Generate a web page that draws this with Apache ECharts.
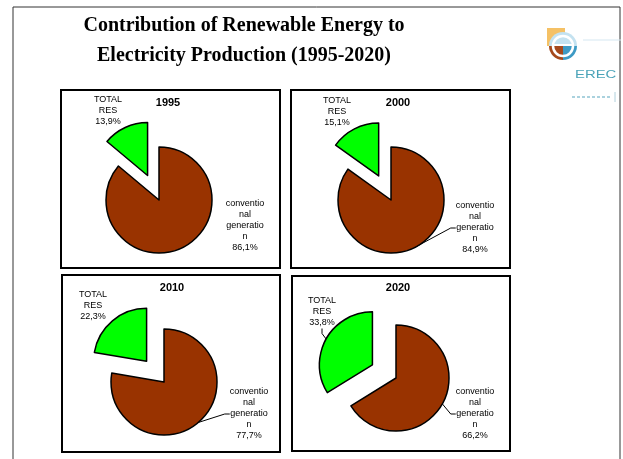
<!DOCTYPE html>
<html>
<head>
<meta charset="utf-8">
<script src="https://cdn.jsdelivr.net/npm/echarts@6/dist/echarts.min.js"></script>
<style>
html,body{margin:0;padding:0;background:#fff;}
#chart{width:623px;height:459px;}
</style>
</head>
<body>
<div id="chart"></div>
<script>
// ---- data ----
const years = ['1995', '2000', '2010', '2020'];
const categories = ['conventional generation', 'TOTAL RES'];
const categoryLabels = ['conventio\nnal\ngeneratio\nn', 'TOTAL\nRES'];
const conventionalShare = [86.1, 84.9, 77.7, 66.2];
const resShare = [13.9, 15.1, 22.3, 33.8];
const titleLines = ['Contribution of Renewable Energy to', 'Electricity Production (1995-2020)'];

// ---- layout (pixels) ----
const panels = [[61, 90, 219, 178], [291, 90, 219, 178], [62, 275, 218, 177], [292, 276, 218, 175]];
const pieCenters = [[159, 200], [391, 200], [164, 382], [396, 378]];
const pieRadius = 53;
const explodeOffset = 27;
const yearTitlePos = [[168, 103], [398, 103], [172, 288], [398, 288]];
const resLabelOffset = [[-51, -89], [-54, -88], [-71, -76], [-74, -66]];
const convLabelOffset = [[86, 26], [84, 28], [85, 32], [79, 36]];
const showConvLine = [false, true, true, true];
const showResLine = [false, false, false, true];

const fmt = v => v.toFixed(1).replace('.', ',') + '%';
const COLORS = ['#993300', '#00FF00'];

const chart = echarts.init(document.getElementById('chart'), null, {renderer: 'canvas'});

const labelBase = {
  show: true,
  position: 'outside',
  fontFamily: 'Liberation Sans, Arial, sans-serif',
  fontSize: 9,
  lineHeight: 11,
  color: '#000',
  align: 'center',
  formatter: p => categoryLabels[p.dataIndex] + '\n' + fmt(p.value)
};
const hidden = {color: 'rgba(0,0,0,0)', borderWidth: 0};

const series = [];
years.forEach((yr, i) => {
  const conv = conventionalShare[i], res = resShare[i];
  const total = conv + res;
  // mid angle of RES slice measured clockwise from 12 o'clock
  const mid = 2 * Math.PI * (conv + res / 2) / total;
  const resCenter = [pieCenters[i][0] + Math.sin(mid) * explodeOffset,
                     pieCenters[i][1] - Math.cos(mid) * explodeOffset];
  const common = {
    type: 'pie', radius: pieRadius, startAngle: 90, clockwise: true,
    animation: false, silent: true, emphasis: {disabled: true},
    itemStyle: {borderColor: '#000', borderWidth: 1.5},
    labelLine: {show: true, length: 5, length2: 5, lineStyle: {color: '#000', width: 1}}
  };
  // conventional slice (pie centre)
  series.push(Object.assign({}, common, {
    name: yr + ' conventional',
    center: pieCenters[i],
    label: labelBase,
    labelLayout: () => ({
      x: pieCenters[i][0] + convLabelOffset[i][0],
      y: pieCenters[i][1] + convLabelOffset[i][1],
      align: 'center', verticalAlign: 'middle'
    }),
    data: [
      {name: categories[0], value: conv, itemStyle: {color: COLORS[0]}, labelLine: {show: showConvLine[i]}},
      {name: categories[1], value: res, itemStyle: hidden, label: {show: false}, labelLine: {show: false}}
    ]
  }));
  // exploded RES slice
  series.push(Object.assign({}, common, {
    name: yr + ' RES',
    center: resCenter,
    label: labelBase,
    labelLayout: () => ({
      x: pieCenters[i][0] + resLabelOffset[i][0],
      y: pieCenters[i][1] + resLabelOffset[i][1],
      align: 'center', verticalAlign: 'middle'
    }),
    data: [
      {name: categories[0], value: conv, itemStyle: hidden, label: {show: false}, labelLine: {show: false}},
      {name: categories[1], value: res, itemStyle: {color: COLORS[1]}, labelLine: {show: showResLine[i]}}
    ]
  }));
});

const graphics = [];
// outer frame
graphics.push({type: 'polyline', shape: {points: [[13, 470], [13, 7], [620, 7], [620, 470]]},
  style: {stroke: '#333', lineWidth: 1, fill: null}, silent: true});
// main title
const titleFont = 'bold 20px "Liberation Serif", "Times New Roman", serif';
graphics.push({type: 'text', x: 244, y: 26, style: {text: titleLines[0], font: titleFont, fill: '#000', align: 'center', verticalAlign: 'middle'}});
graphics.push({type: 'text', x: 244, y: 56, style: {text: titleLines[1], font: titleFont, fill: '#000', align: 'center', verticalAlign: 'middle'}});
// panels and year titles
panels.forEach((p, i) => {
  graphics.push({type: 'rect', shape: {x: p[0], y: p[1], width: p[2], height: p[3]},
    style: {stroke: '#000', lineWidth: 2, fill: null}, silent: true, z: 0});
  graphics.push({type: 'text', x: yearTitlePos[i][0], y: yearTitlePos[i][1],
    style: {text: years[i], font: 'bold 11px "Liberation Sans", Arial, sans-serif', fill: '#000', align: 'center', verticalAlign: 'middle'}});
});
// logo
graphics.push({type: 'rect', shape: {x: 547, y: 28, width: 18, height: 18}, style: {fill: '#f3b64a', opacity: 0.85}});
graphics.push({type: 'sector', shape: {cx: 563, cy: 46, r: 14, startAngle: Math.PI, endAngle: 2 * Math.PI}, style: {fill: '#c4e2f0'}});
graphics.push({type: 'sector', shape: {cx: 563, cy: 46, r: 14, startAngle: Math.PI / 2, endAngle: Math.PI}, style: {fill: '#a5491c'}});
graphics.push({type: 'sector', shape: {cx: 563, cy: 46, r: 14, startAngle: 0, endAngle: Math.PI / 2}, style: {fill: '#3d9ac4'}});
graphics.push({type: 'circle', shape: {cx: 563, cy: 46, r: 10}, style: {fill: null, stroke: '#fff', lineWidth: 2.5}});
graphics.push({type: 'line', shape: {x1: 552, y1: 45, x2: 574, y2: 45}, style: {stroke: '#fff', lineWidth: 2}});
graphics.push({type: 'line', shape: {x1: 583, y1: 40, x2: 621, y2: 40}, style: {stroke: '#d5e7f1', lineWidth: 1}});
graphics.push({type: 'text', x: 575, y: 75, scaleX: 1.35, style: {text: 'EREC', font: '11px "Liberation Sans", Arial, sans-serif', fill: '#4aa3b8', align: 'left', verticalAlign: 'middle'}});
graphics.push({type: 'line', shape: {x1: 572, y1: 97, x2: 612, y2: 97}, style: {stroke: '#8fc3d3', lineWidth: 1.5, lineDash: [3, 2]}});
graphics.push({type: 'line', shape: {x1: 615, y1: 92, x2: 615, y2: 102}, style: {stroke: '#b0d0dc', lineWidth: 1}});

chart.setOption({
  backgroundColor: '#fff',
  animation: false,
  series: series,
  graphic: graphics
});
</script>
</body>
</html>
